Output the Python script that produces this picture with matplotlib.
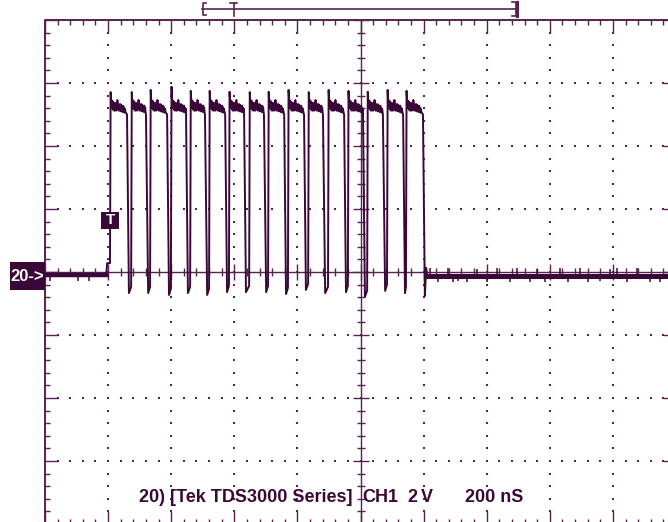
import numpy as np
import matplotlib
matplotlib.use('Agg')
import matplotlib.pyplot as plt
from matplotlib.lines import Line2D
from matplotlib.patches import Rectangle

# keep every sample of the ringing, no path thinning
plt.rcParams['path.simplify'] = False

# CH1 burst, 2 V/div, 200 ns/div, t = 0 at the trigger edge
rise_ns = [6, 73, 133, 199, 260, 320, 383, 447, 507, 570, 634, 697, 760, 821, 884, 944]
fall_ns = [60, 120, 187, 247, 307, 371, 431, 494, 558, 621, 681, 748, 808, 871, 935, 998]
low_ns = [66, 127, 193, 253, 314, 377, 437, 501, 564, 627, 688, 754, 814, 878, 941, 1004]
low_v = [-0.67, -0.67, -0.73, -0.67, -0.73, -0.64, -0.64, -0.64, -0.70, -0.57,
         -0.67, -0.64, -0.79, -0.60, -0.67, -0.76]
peak_v = [5.71, 5.71, 5.78, 5.88, 5.75, 5.75, 5.72, 5.71, 5.72, 5.78, 5.71, 5.78,
          5.75, 5.72, 5.78, 5.75]

# ringing on the high level: offset after the rising edge (ns), level (V)
ripple_dt = [4, 5.5, 7, 8.5, 10, 11.5, 13, 14.5, 16, 17.5, 19, 20.5, 22, 23.5, 25, 26.5,
             28, 29.5, 31, 32.5, 34, 35.5, 37, 38.5, 40, 41.5, 43, 44.5, 46, 47.5, 49]
ripple_v = [5.35, 5.45, 5.2, 5.42, 5.15, 5.38, 5.12, 5.35, 5.15, 5.36, 5.12, 5.3, 5.18,
            5.46, 5.15, 5.34, 5.12, 5.3, 5.14, 5.33, 5.1, 5.3, 5.14, 5.26, 5.08, 5.28,
            5.1, 5.22, 5.06, 5.18, 5.08]

pre_level = -0.08
post_level = -0.13
spike_ns = [-184, -95, -60, 1020, 1046, 1077, 1093, 1110, 1138, 1170, 1201, 1233, 1274,
            1296, 1337, 1360, 1385, 1432, 1458, 1496, 1521, 1560, 1590, 1613, 1645, 1676,
            1718, 1749]
spike_v = [-0.3, -0.3, -0.28, 0.13, -0.32, 0.13, -0.32, -0.3, -0.32, 0.1, -0.32, 0.13,
           -0.32, 0.13, -0.32, 0.1, -0.32, 0.13, -0.32, 0.13, -0.32, -0.3, 0.1, 0.13,
           -0.32, 0.13, -0.32, -0.32]

W, H = 668, 522
trace_c = '#3a0838'
grid_c = '#57214f'

# graticule: 10 x 8 divisions
T0, T1, DT = -200, 1800, 200
V0, V1, DV = -8, 8, 2
px_ns = 0.3155
px_v = 31.5
TC = (T0 + T1) / 2

fig = plt.figure(figsize=(W / 100, H / 100), dpi=100)
ax = fig.add_axes([0, 0, 1, 1])
ax.set_xlim(T0 - 45 / px_ns, T0 + (W - 45) / px_ns)
ax.set_ylim(-(H - 272) / px_v, 272 / px_v)
ax.axis('off')

lw_g = 1.0
ax.plot([T0, T1, T1, T0, T0], [V0, V0, V1, V1, V0], color=grid_c, lw=1.4)
ax.plot([T0, T1], [0, 0], color=grid_c, lw=lw_g)
ax.plot([TC, TC], [V0, V1], color=grid_c, lw=lw_g)

ts = np.arange(T0, T1 + 1, DT / 5)
vs = np.arange(V0, V1 + 0.01, DV / 5)
t_major = np.isclose((ts - T0) % DT, 0)
v_major = np.isclose((vs - V0) % DV, 0)
len_t = np.where(t_major, 13, 5) / px_v
len_v = np.where(v_major, 13, 5) / px_ns
ax.vlines(ts, V1 - len_t, V1, color=grid_c, lw=lw_g)
ax.vlines(ts, V0, V0 + len_t, color=grid_c, lw=lw_g)
ax.hlines(vs, T0, T0 + len_v, color=grid_c, lw=lw_g)
ax.hlines(vs, T1 - len_v, T1, color=grid_c, lw=lw_g)
c_t = np.where(t_major, 8, 4) / px_v
c_v = np.where(v_major, 8, 4) / px_ns
ax.vlines(ts, -c_t, c_t, color=grid_c, lw=lw_g)
ax.hlines(vs, TC - c_v, TC + c_v, color=grid_c, lw=lw_g)

# dotted division lines
dot_t, dot_v = [], []
for k in range(1, 10):
    if k == 5:
        continue
    dot_t += [T0 + k * DT] * (len(vs) - 2)
    dot_v += list(vs[1:-1])
for j in (-3, -2, -1, 1, 2, 3):
    dot_t += list(ts[1:-1])
    dot_v += [j * DV] * (len(ts) - 2)
ax.scatter(dot_t, dot_v, s=2.6, marker='s', color=grid_c, linewidths=0)

# trace
t = [T0, -6, -3, 4]
v = [pre_level, pre_level, 0.28, 0.28]
prev = 0.28
for i in range(len(rise_ns)):
    t += [rise_ns[i], rise_ns[i] + 2]
    v += [prev, peak_v[i]]
    for dt, rv in zip(ripple_dt, ripple_v):
        if rise_ns[i] + dt < fall_ns[i]:
            t.append(rise_ns[i] + dt)
            v.append(rv)
    t += [fall_ns[i], low_ns[i]]
    v += [5.0, low_v[i]]
    prev = low_v[i] + 0.2
t_end = ax.get_xlim()[1]
t += [1008, 1012, t_end]
v += [0.13, post_level, post_level]
ax.plot(t, v, color=trace_c, lw=1.4, zorder=5)
ax.plot([T0, -6], [pre_level, pre_level], color=trace_c, lw=3.2, zorder=5)
ax.plot([1012, t_end], [post_level, post_level], color=trace_c, lw=3.6, zorder=5)
ax.vlines(spike_ns, post_level, spike_v, color=trace_c, lw=1.1, zorder=5)


def fx(px):
    return px / W


def fy(py):
    return 1 - py / H


def seg(xs, ys, lw=1.2):
    fig.add_artist(Line2D([fx(x) for x in xs], [fy(y) for y in ys], color=grid_c,
                          lw=lw, transform=fig.transFigure))


# record position bar
seg([202, 516], [8.5, 8.5])
seg([206, 203, 203, 206], [3, 3, 15, 15])
seg([230, 237], [3, 3])
seg([233.5, 233.5], [3, 16])
seg([512, 516, 516, 512], [2, 2, 16, 16], lw=1.2)
seg([516.5, 516.5], [2, 16], lw=2.2)

font = 'Liberation Sans'
# ground marker and trigger marker
fig.add_artist(Rectangle((fx(10), fy(290)), 35 / W, 28 / H, transform=fig.transFigure,
                         facecolor=trace_c, edgecolor='none', zorder=6))
fig.text(fx(27.5), fy(276.5), '20->', color='white', fontsize=12, fontweight='bold',
         family=font, ha='center', va='center', zorder=7)
fig.add_artist(Rectangle((fx(101), fy(229)), 18 / W, 17 / H, transform=fig.transFigure,
                         facecolor=trace_c, edgecolor='none', zorder=6))
fig.text(fx(110), fy(220.5), 'T', color='white', fontsize=11, fontweight='bold',
         family=font, ha='center', va='center', zorder=7)

# readout line along the bottom
readout = [('20) [Tek TDS3000 Series]', 139), ('CH1', 362), ('2', 407), ('V', 421),
           ('200 nS', 465)]
for label, x in readout:
    fig.text(fx(x), fy(497), label, color=trace_c, fontsize=13, fontweight='bold',
             family=font, ha='left', va='center', zorder=7)

fig.savefig('out.png', dpi=100, facecolor='white')
